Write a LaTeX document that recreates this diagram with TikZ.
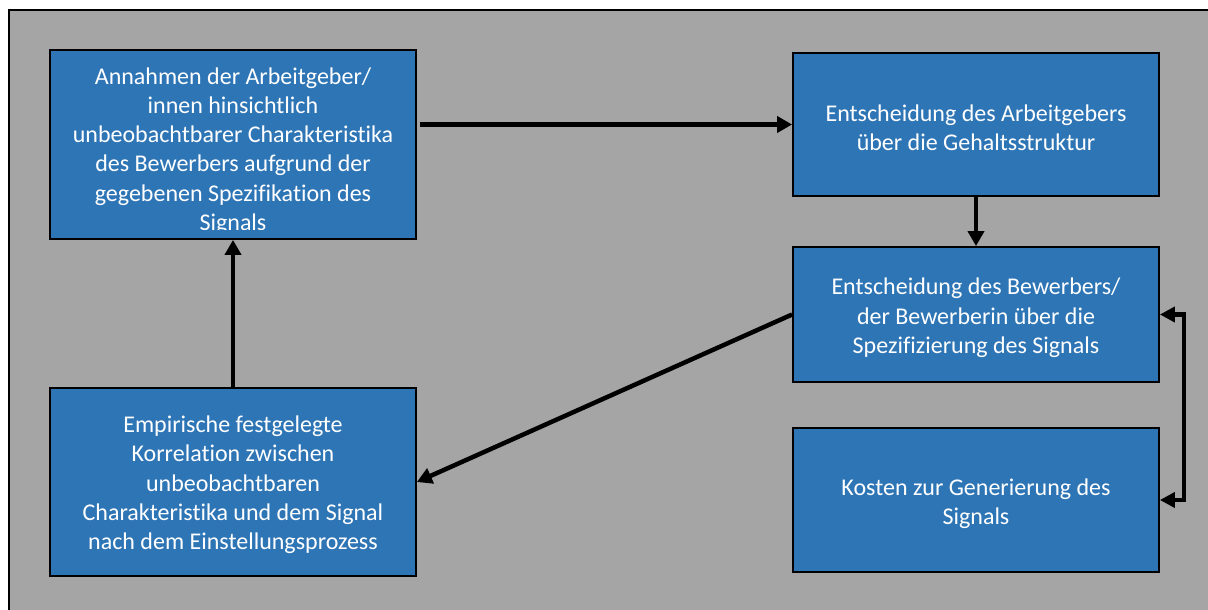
\documentclass[tikz,border=0pt]{standalone}
\usepackage{fontspec}
\setmainfont{Carlito}[RawFeature=-liga]
\usetikzlibrary{arrows.meta}
\definecolor{boxblue}{HTML}{2E75B6}
\definecolor{bggray}{HTML}{A5A5A5}
\tikzset{
  box/.style={draw=black, line width=1.8pt, fill=boxblue, minimum width=366pt, inner sep=0pt},
  txt/.style={text=white, align=center, font=\fontsize{24}{29.3}\selectfont, inner sep=0pt},
  arr/.style={draw=black, line width=4.5pt, -{Triangle[length=15pt,width=16pt]}},
  arrboth/.style={draw=black, line width=4.5pt, {Triangle[length=15pt,width=15pt]}-{Triangle[length=15pt,width=15pt]}},
}
\begin{document}
\begin{tikzpicture}[x=1pt,y=-1pt]
\clip (0,0) rectangle (1208,610);
\fill[white] (0,0) rectangle (1208,610);
\draw[line width=2pt, fill=bggray] (9,10) rectangle (1230,630);

\node[box, minimum height=189pt] (n1) at (233,144.5) {};
\begin{scope}
\clip (50,50) rectangle (416,229);
\node[txt] (t1) at (233,151) {Annahmen der Arbeitgeber/\\innen hinsichtlich\\unbeobachtbarer Charakteristika\\des Bewerbers aufgrund der\\gegebenen Spezifikation des\\Signals};
\end{scope}

\node[box, minimum height=143pt] (n2) at (976,124.5) {};
\node[txt] (t2) at (976,128) {Entscheidung des Arbeitgebers\\über die Gehaltsstruktur};

\node[box, minimum height=135pt] (n3) at (976,314.5) {};
\node[txt] (t3) at (976,318) {Entscheidung des Bewerbers/\\der Bewerberin über die\\Spezifizierung des Signals};

\node[box, minimum height=188pt] (n4) at (233,482) {};
\node[txt] (t4) at (233,485) {Empirische festgelegte\\Korrelation zwischen\\unbeobachtbaren\\Charakteristika und dem Signal\\nach dem Einstellungsprozess};

\node[box, minimum height=144pt] (n5) at (976,500) {};
\node[txt] (t5) at (976,504) {Kosten zur Generierung des\\Signals};

\draw[arr] ([xshift=3pt]n1.east |- n2.west) -- (n2.west);
\draw[arr] (n4.north) -- (n1.south);
\draw[arr] (n2.south) -- (n3.north);
\draw[arr] (n3.west) -- (n4.east);
\draw[arrboth] (n3.east) -- ++(24,0) |- (n5.east);
\end{tikzpicture}
\end{document}
